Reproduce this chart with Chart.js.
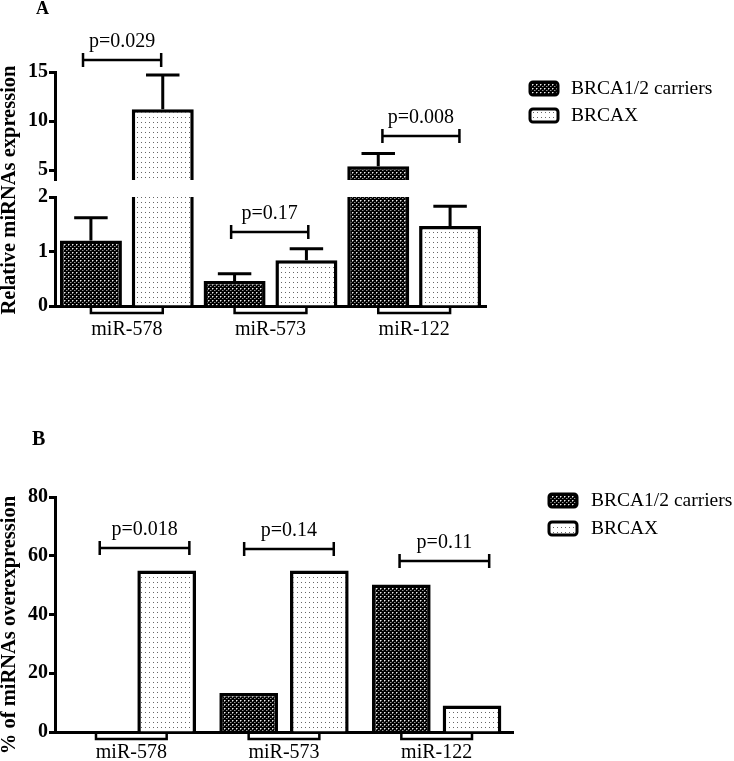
<!DOCTYPE html>
<html><head><meta charset="utf-8">
<script src="https://cdn.jsdelivr.net/npm/chart.js@4.4.1/dist/chart.umd.min.js"></script>
<style>
html,body{margin:0;padding:0;background:#fff;}
#wrap{position:relative;width:734px;height:761px;overflow:hidden;background:#fff;}
#wrap canvas{position:absolute;left:0;top:0;}
</style></head><body>
<div id="wrap">
<canvas id="aUp" width="734" height="761"></canvas>
<canvas id="aLo" width="734" height="761"></canvas>
<canvas id="bCh" width="734" height="761"></canvas>
</div>
<script>
// ---------- DATA ----------
const categories = ['miR-578', 'miR-573', 'miR-122'];
const seriesNames = ['BRCA1/2 carriers', 'BRCAX'];
// Panel A: relative expression (mean and upper error)
const aCarriers = [1.2, 0.46, 5.4];
const aCarriersErr = [0.42, 0.13, 1.3];
const aBrcax = [11.2, 0.84, 1.47];
const aBrcaxErr = [3.5, 0.21, 0.36];
const aUpperTicks = [5, 10, 15];
const aLowerTicks = [0, 1, 2];
const aPLabels = ['p=0.029', 'p=0.17', 'p=0.008'];
const aPLevels = [16.2, 1.36, 8.5];
const aPSegment = ['upper', 'lower', 'upper'];
const aPSpans = [[-0.305, 0.239], [0.726, 1.263], [1.779, 2.315]];
// Panel B: % overexpression
const bCarriers = [0, 13.3, 50.2];
const bBrcax = [55, 55, 9];
const bTicks = [0, 20, 40, 60, 80];
const bPLabels = ['p=0.018', 'p=0.14', 'p=0.11'];
const bPLevels = [62.6, 62.3, 58.2];
const bPSpans = [[-0.207, 0.380], [0.739, 1.326], [1.757, 2.344]];

// ---------- STYLE ----------
const SERIF = '"Liberation Serif", "Times New Roman", serif';
const W = 734, H = 761;

function makeTile(w, h, bg, pixels) {
  const c = document.createElement('canvas'); c.width = w; c.height = h;
  const g = c.getContext('2d'); g.fillStyle = bg; g.fillRect(0, 0, w, h);
  pixels.forEach(([x, y, col]) => { g.fillStyle = col; g.fillRect(x, y, 1, 1); });
  return c;
}
const tileCarriers = makeTile(4, 4, '#000', [[0,0,'#eee'],[1,0,'#777'],[0,1,'#777'],[2,2,'#999'],[3,2,'#444']]);
const tileBrcax = makeTile(4, 5, '#fff', [[1,2,'#666']]);

function patterns(ctx) {
  return [ctx.createPattern(tileCarriers, 'repeat'), ctx.createPattern(tileBrcax, 'repeat')];
}

function annotPlugin(cfg) {
  return {
    id: 'annot',
    afterDatasetsDraw(chart) {
      const ctx = chart.ctx, y = chart.scales.y, x = chart.scales.x;
      ctx.save();
      ctx.strokeStyle = '#000'; ctx.fillStyle = '#000'; ctx.lineCap = 'butt';
      // error bars
      (cfg.errors || []).forEach((errs, di) => {
        const meta = chart.getDatasetMeta(di);
        meta.data.forEach((bar, i) => {
          const v = chart.data.datasets[di].data[i];
          if (v < y.min || v > y.max) return;
          const top = y.getPixelForValue(v + errs[i]);
          const half = bar.width * 0.27;
          ctx.lineWidth = 3;
          ctx.beginPath();
          ctx.moveTo(bar.x, bar.y); ctx.lineTo(bar.x, top - 1.5);
          ctx.moveTo(bar.x - half, top); ctx.lineTo(bar.x + half, top);
          ctx.stroke();
        });
      });
      // p-value brackets
      (cfg.brackets || []).forEach(b => {
        const x0 = x.getPixelForValue(b.span[0]), x1 = x.getPixelForValue(b.span[1]);
        const py = Math.round(y.getPixelForValue(b.level));
        ctx.lineWidth = 2.5;
        ctx.beginPath();
        ctx.moveTo(x0, py); ctx.lineTo(x1, py);
        ctx.moveTo(x0, py - 7); ctx.lineTo(x0, py + 7);
        ctx.moveTo(x1, py - 7); ctx.lineTo(x1, py + 7);
        ctx.stroke();
        ctx.font = '20px ' + SERIF; ctx.textAlign = 'center'; ctx.textBaseline = 'alphabetic';
        ctx.fillText(b.label, (x0 + x1) / 2, py - 13);
      });
      // group marks under axis
      if (cfg.groupMarks) {
        const m0 = chart.getDatasetMeta(0), m1 = chart.getDatasetMeta(1);
        const yb = chart.chartArea.bottom;
        ctx.lineWidth = 2.5;
        m0.data.forEach((b0, i) => {
          const x0 = b0.x, x1 = m1.data[i].x;
          ctx.beginPath();
          ctx.moveTo(x0, yb); ctx.lineTo(x0, yb + 7); ctx.lineTo(x1, yb + 7); ctx.lineTo(x1, yb);
          ctx.stroke();
        });
      }
      // legend
      if (cfg.legend) {
        const L = cfg.legend;
        chart.data.datasets.forEach((ds, i) => {
          const bl = L.baselines[i];
          ctx.beginPath();
          ctx.roundRect(L.x, bl - 12, 28, 13, 3);
          ctx.fillStyle = ds.backgroundColor; ctx.fill();
          ctx.lineWidth = 3; ctx.strokeStyle = '#000'; ctx.stroke();
          ctx.fillStyle = '#000';
          ctx.font = '19.5px ' + SERIF; ctx.textAlign = 'left'; ctx.textBaseline = 'alphabetic';
          ctx.fillText(ds.label, L.textX, bl);
        });
      }
      // y title
      if (cfg.yTitle) {
        ctx.save();
        ctx.translate(cfg.yTitle.x, cfg.yTitle.cy);
        ctx.rotate(-Math.PI / 2);
        ctx.font = 'bold 20.5px ' + SERIF; ctx.textAlign = 'center'; ctx.textBaseline = 'alphabetic';
        ctx.fillStyle = '#000';
        ctx.fillText(cfg.yTitle.text, 0, 0);
        ctx.restore();
      }
      if (cfg.letter) {
        ctx.font = 'bold ' + cfg.letter.size + 'px ' + SERIF; ctx.textAlign = 'left'; ctx.textBaseline = 'alphabetic';
        ctx.fillStyle = '#000';
        ctx.fillText(cfg.letter.text, cfg.letter.x, cfg.letter.y);
      }
      ctx.restore();
    }
  };
}

function yScale(min, max, tickList) {
  return {
    min: min, max: max,
    afterBuildTicks: s => { s.ticks = tickList.map(v => ({ value: v })); },
    grid: { display: true, drawOnChartArea: false, drawTicks: true, tickLength: 6, tickWidth: 3, tickColor: '#000' },
    border: { display: true, color: '#000', width: 3 },
    ticks: { font: { family: SERIF, size: 20, weight: 'bold' }, color: '#000', padding: 1 },
    afterFit: s => { s.width = 55; }
  };
}
function xScale(show, pad, h) {
  if (!show) return { display: false };
  return {
    grid: { display: true, drawOnChartArea: false, drawTicks: false },
    border: { display: true, color: '#000', width: 3 },
    ticks: { font: { family: SERIF, size: 20 }, color: '#000', padding: pad, maxRotation: 0 },
    afterFit: s => { s.height = h; }
  };
}
function datasets(ctx, d0, d1, clip, cp, bp) {
  const [p0, p1] = patterns(ctx);
  const common = { borderColor: '#000', borderWidth: 3.5, borderSkipped: 'start', clip: clip, categoryPercentage: cp, barPercentage: bp };
  return [
    Object.assign({ label: seriesNames[0], data: d0, backgroundColor: p0 }, common),
    Object.assign({ label: seriesNames[1], data: d1, backgroundColor: p1 }, common)
  ];
}
const baseOpts = { responsive: false, animation: false, devicePixelRatio: 1 };
const noPlug = { legend: { display: false }, tooltip: { enabled: false } };

function bracketsFor(labels, levels, spans, filter) {
  return labels.map((l, i) => ({ label: l, level: levels[i], span: spans[i], i }))
    .filter(b => filter(b.i));
}

// ---------- Panel A upper (4..15) ----------
const ctxUp = document.getElementById('aUp').getContext('2d');
new Chart(ctxUp, {
  type: 'bar',
  data: { labels: categories, datasets: datasets(ctxUp, aCarriers, aBrcax, { left: false, right: false, top: false, bottom: 0 }, 1, 0.863) },
  options: Object.assign({}, baseOpts, {
    layout: { padding: { left: 0, top: 72, right: 248, bottom: H - 180 } },
    plugins: noPlug,
    scales: { x: xScale(false), y: yScale(4, 15, aUpperTicks) }
  }),
  plugins: [annotPlugin({
    errors: [aCarriersErr, aBrcaxErr],
    brackets: bracketsFor(aPLabels, aPLevels, aPSpans, i => aPSegment[i] === 'upper'),
    legend: { x: 530, textX: 571, baselines: [94, 121] },
    letter: { text: 'A', x: 36, y: 14, size: 18 }
  })]
});

// ---------- Panel A lower (0..2) ----------
const ctxLo = document.getElementById('aLo').getContext('2d');
new Chart(ctxLo, {
  type: 'bar',
  data: { labels: categories, datasets: datasets(ctxLo, aCarriers, aBrcax, { left: false, right: false, top: 0, bottom: false }, 1, 0.863) },
  options: Object.assign({}, baseOpts, {
    layout: { padding: { left: 0, top: 197, right: 248, bottom: H - 306 - 40 } },
    plugins: noPlug,
    scales: { x: xScale(true, 12, 40), y: yScale(0, 2, aLowerTicks) }
  }),
  plugins: [annotPlugin({
    errors: [aCarriersErr, aBrcaxErr],
    brackets: bracketsFor(aPLabels, aPLevels, aPSpans, i => aPSegment[i] === 'lower'),
    groupMarks: true,
    yTitle: { text: 'Relative miRNAs expression', x: 15, cy: 190 }
  })]
});

// ---------- Panel B ----------
const ctxB = document.getElementById('bCh').getContext('2d');
new Chart(ctxB, {
  type: 'bar',
  data: { labels: categories, datasets: datasets(ctxB, bCarriers, bBrcax, 0, 0.926, 0.83) },
  options: Object.assign({}, baseOpts, {
    layout: { padding: { left: 0, top: 497, right: W - 513, bottom: 0 } },
    plugins: noPlug,
    scales: { x: xScale(true, 9, H - 732), y: yScale(0, 80, bTicks) }
  }),
  plugins: [annotPlugin({
    brackets: bracketsFor(bPLabels, bPLevels, bPSpans, () => true),
    groupMarks: true,
    legend: { x: 549, textX: 591, baselines: [506, 534] },
    yTitle: { text: '% of miRNAs overexpression', x: 15, cy: 625 },
    letter: { text: 'B', x: 32, y: 445, size: 20 }
  })]
});
</script>
</body></html>
